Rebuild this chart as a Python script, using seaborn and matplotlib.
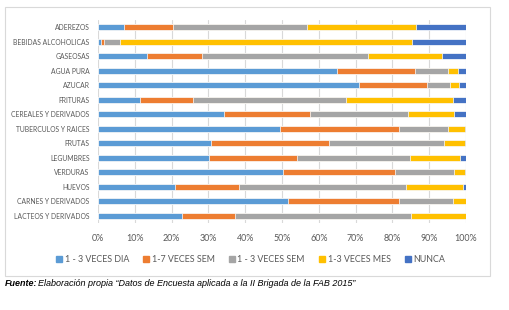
import matplotlib
matplotlib.use("Agg")
import matplotlib.pyplot as plt
import seaborn as sns
import pandas as pd
import numpy as np
from matplotlib.patches import Rectangle
from matplotlib.lines import Line2D

categories = ["ADEREZOS", "BEBIDAS ALCOHOLICAS", "GASEOSAS", "AGUA PURA", "AZUCAR",
              "FRITURAS", "CEREALES Y DERIVADOS", "TUBERCULOS Y RAICES", "FRUTAS",
              "LEGUMBRES", "VERDURAS", "HUEVOS", "CARNES Y DERIVADOS", "LACTEOS Y DERIVADOS"]
series_names = ["1 - 3 VECES DIA", "1-7 VECES SEM", "1 - 3 VECES SEM", "1-3 VECES MES", "NUNCA"]
veces_dia = [7.2, 0.9, 13.4, 64.9, 71.0, 11.3, 34.2, 49.5, 30.7, 30.2, 50.4, 21.0, 51.5, 22.9]
veces_sem17 = [13.3, 0.7, 14.9, 21.2, 18.3, 14.6, 23.5, 32.3, 32.1, 23.9, 30.3, 17.3, 30.3, 14.4]
veces_sem13 = [36.4, 4.4, 45.0, 8.9, 6.3, 41.5, 26.5, 13.3, 31.2, 30.6, 16.0, 45.4, 14.6, 47.8]
veces_mes = [29.6, 79.2, 20.2, 2.9, 2.4, 29.0, 12.6, 4.5, 5.6, 13.6, 2.9, 15.5, 3.6, 14.9]
nunca = [13.5, 14.8, 6.5, 2.1, 2.0, 3.6, 3.2, 0.4, 0.4, 1.7, 0.4, 0.8, 0.0, 0.0]
xticks = [0, 10, 20, 30, 40, 50, 60, 70, 80, 90, 100]
colors = ["#5B9BD5", "#ED7D31", "#A5A5A5", "#FFC000", "#4472C4"]

sns.set_theme(style="white")
plt.rcParams["font.family"] = ["Lato", "DejaVu Sans"]

values = np.array([veces_dia, veces_sem17, veces_sem13, veces_mes, nunca])
cum = np.cumsum(values, axis=0)

fig = plt.figure(figsize=(5.1, 3.1), dpi=100)
ax = fig.add_axes([98/510, 1-223/310, (466-98)/510, (223-20)/310])

for i in range(len(series_names) - 1, -1, -1):
    df = pd.DataFrame({"cat": categories, "val": cum[i]})
    sns.barplot(data=df, x="val", y="cat", order=categories, color=colors[i],
                width=0.44, ax=ax, saturation=1, edgecolor="white", linewidth=0.5,
                orient="h", zorder=3)

ax.set_xlim(0, 100)
ax.set_ylim(len(categories) - 0.5, -0.5)
ax.set_xticks(xticks)
ax.set_xticklabels([f"{t}%" for t in xticks])
ax.set_xlabel("")
ax.set_ylabel("")
for s in ax.spines.values():
    s.set_visible(False)
ax.grid(axis="x", color="#D9D9D9", linewidth=0.8, zorder=0)
ax.set_axisbelow(True)
ax.tick_params(axis="x", length=0, pad=8, labelsize=6.4, labelcolor="#595959")
ax.tick_params(axis="y", length=0, pad=6, labelsize=4.9, labelcolor="#595959")

handles = [Line2D([0], [0], marker="s", linestyle="", markersize=4,
                  markerfacecolor=c, markeredgecolor=c) for c in colors]
fig.legend(handles, series_names, loc="center", bbox_to_anchor=(250/510, 1-260/310),
           ncol=5, frameon=False, fontsize=6.4, handletextpad=0.1, columnspacing=1.45,
           labelcolor="#595959", handlelength=1.0)

fig.patches.append(Rectangle((5/510, 1-276/310), (490-5)/510, (276-7)/310,
                             transform=fig.transFigure, fill=False,
                             edgecolor="#D9D9D9", linewidth=0.8))

t1 = fig.text(5/510, 1-284/310, "Fuente:", fontsize=6.5, style="italic", weight="bold",
              family=["Liberation Sans"], va="center", ha="left", color="black")
fig.canvas.draw()
bb = t1.get_window_extent()
fig.text(bb.x1 / fig.bbox.width, 1-284/310,
         "Elaboración propia \u201cDatos de Encuesta aplicada a la II Brigada de la FAB 2015\u201d",
         fontsize=6.5, style="italic", family=["Liberation Sans"], va="center", ha="left",
         color="black")

fig.savefig("out.png", dpi=100)
